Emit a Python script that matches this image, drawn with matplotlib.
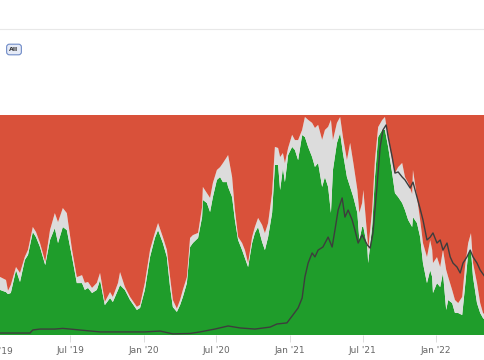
import matplotlib
matplotlib.use("Agg")
import matplotlib.pyplot as plt
import matplotlib.dates as mdates
import matplotlib.transforms as mtransforms
import pandas as pd
from matplotlib.lines import Line2D

# share of addresses: in the money / at the money (percent); out = rest
DATES = [
    "2019-01-07", "2019-01-22", "2019-01-27", "2019-02-03", "2019-02-16", "2019-02-26",
    "2019-03-10", "2019-03-18", "2019-03-30", "2019-04-07", "2019-04-17", "2019-04-30",
    "2019-05-12", "2019-05-24", "2019-06-01", "2019-06-13", "2019-06-23", "2019-07-06",
    "2019-07-18", "2019-07-31", "2019-08-07", "2019-08-15", "2019-08-25", "2019-09-06",
    "2019-09-14", "2019-09-26", "2019-10-09", "2019-10-16", "2019-10-29", "2019-11-03",
    "2019-11-15", "2019-11-28", "2019-12-15", "2019-12-23", "2020-01-04", "2020-01-17",
    "2020-01-29", "2020-02-06", "2020-02-18", "2020-02-28", "2020-03-07", "2020-03-14",
    "2020-03-24", "2020-04-01", "2020-04-08", "2020-04-18", "2020-04-26", "2020-05-03",
    "2020-05-16", "2020-05-26", "2020-05-28", "2020-06-07", "2020-06-15", "2020-06-22",
    "2020-07-02", "2020-07-10", "2020-07-17", "2020-07-27", "2020-07-30", "2020-08-09",
    "2020-08-16", "2020-08-24", "2020-09-03", "2020-09-10", "2020-09-18", "2020-09-28",
    "2020-10-05", "2020-10-13", "2020-10-23", "2020-10-30", "2020-11-07", "2020-11-17",
    "2020-11-24", "2020-12-02", "2020-12-07", "2020-12-14", "2020-12-19", "2020-12-27",
    "2021-01-06", "2021-01-13", "2021-01-21", "2021-01-31", "2021-02-07", "2021-02-15",
    "2021-02-25", "2021-03-04", "2021-03-12", "2021-03-22", "2021-03-29", "2021-04-06",
    "2021-04-13", "2021-04-18", "2021-04-28", "2021-05-06", "2021-05-13", "2021-05-23",
    "2021-05-31", "2021-06-08", "2021-06-18", "2021-06-23", "2021-06-30", "2021-07-03",
    "2021-07-13", "2021-07-15", "2021-07-25", "2021-08-01", "2021-08-09", "2021-08-19",
    "2021-08-26", "2021-09-03", "2021-09-13", "2021-09-20", "2021-09-28", "2021-10-08",
    "2021-10-15", "2021-10-23", "2021-11-02", "2021-11-04", "2021-11-14", "2021-11-22",
    "2021-11-29", "2021-12-09", "2021-12-17", "2021-12-22", "2021-12-24", "2022-01-03",
    "2022-01-11", "2022-01-18", "2022-01-26", "2022-01-31", "2022-02-10", "2022-02-17",
    "2022-02-25", "2022-03-07", "2022-03-14", "2022-03-22", "2022-03-29", "2022-04-03",
    "2022-04-13", "2022-04-21", "2022-04-28", "2022-05-03",
]
IN_MONEY = [
    20.5, 19.5, 18.6, 19.1, 29.5, 24.1, 34.1, 36.4, 46.8, 44.5, 40.0, 31.8,
    43.2, 48.6, 41.8, 49.1, 47.7, 35.5, 23.6, 23.6, 20.5, 21.4, 19.1, 20.5,
    25.0, 13.6, 16.8, 15.0, 20.5, 22.7, 20.5, 15.9, 11.4, 12.3, 20.5, 35.5,
    44.1, 47.7, 41.8, 35.5, 21.8, 12.7, 10.5, 13.6, 17.3, 23.6, 40.0, 41.8,
    44.1, 53.6, 61.4, 60.0, 55.9, 62.7, 70.5, 71.8, 69.5, 69.5, 67.3, 62.7,
    52.3, 43.2, 38.6, 35.0, 30.9, 41.8, 46.4, 49.1, 42.3, 38.6, 44.5, 55.5,
    77.3, 77.3, 65.9, 75.9, 69.5, 81.8, 85.5, 84.1, 79.5, 90.9, 90.0, 85.5,
    80.9, 76.4, 78.2, 67.3, 71.8, 67.3, 55.5, 75.0, 87.3, 91.8, 82.7, 71.8,
    67.3, 62.7, 55.5, 43.2, 49.1, 49.1, 40.0, 32.7, 49.1, 71.8, 90.0, 93.2,
    93.2, 85.5, 73.6, 64.5, 62.7, 60.0, 56.8, 52.3, 49.1, 53.6, 50.9, 44.5,
    32.7, 23.6, 29.5, 26.4, 19.1, 23.6, 21.8, 28.2, 11.4, 15.9, 14.5, 10.0,
    10.0, 9.1, 21.8, 37.3, 38.6, 26.4, 14.5, 10.0, 7.7, 6.8,
]
AT_MONEY = [
    5.9, 5.5, 1.5, 3.6, 1.4, 4.1, 1.4, 2.3, 2.3, 2.3, 1.8, 1.4,
    4.5, 6.8, 9.5, 8.6, 7.7, 3.2, 2.7, 3.6, 3.2, 2.7, 2.3, 3.2,
    3.2, 1.5, 2.7, 2.3, 3.2, 5.9, 1.4, 1.4, 1.4, 1.4, 3.2, 3.2,
    2.3, 3.2, 2.7, 3.2, 4.5, 3.2, 1.5, 2.3, 3.2, 2.7, 4.1, 3.6,
    2.3, 4.5, 5.9, 4.5, 6.4, 6.4, 4.5, 4.5, 8.6, 11.4, 14.5, 9.1,
    4.5, 1.4, 3.2, 3.6, 1.8, 2.7, 2.7, 4.1, 7.7, 7.7, 6.4, 9.1,
    8.2, 7.7, 15.0, 6.8, 8.6, 3.2, 5.5, 4.5, 9.1, 2.3, 9.1, 12.3,
    15.5, 17.7, 17.3, 21.4, 21.4, 27.3, 42.3, 13.6, 9.1, 7.3, 7.3, 7.7,
    20.0, 15.5, 10.5, 12.3, 10.9, 16.8, 4.5, 5.9, 7.7, 7.7, 4.5, 4.5,
    5.9, 4.5, 5.9, 9.1, 13.6, 18.2, 15.0, 16.8, 15.0, 21.4, 11.8, 7.7,
    9.1, 11.8, 13.6, 12.3, 13.6, 11.8, 9.1, 10.5, 18.2, 10.5, 5.9, 5.9,
    4.5, 8.2, 9.1, 4.5, 7.7, 6.4, 9.1, 4.5, 2.3, 2.3,
]

# price, as percent of the chart's price range
PRICE_DATES = [
    "2019-01-07", "2019-03-23", "2019-03-30", "2019-04-17", "2019-05-24", "2019-06-13",
    "2019-07-01", "2019-09-14", "2020-01-04", "2020-02-11", "2020-03-14", "2020-04-26",
    "2020-05-21", "2020-06-27", "2020-07-30", "2020-08-29", "2020-10-05", "2020-11-12",
    "2020-11-29", "2020-12-24", "2021-01-08", "2021-01-21", "2021-01-31", "2021-02-07",
    "2021-02-15", "2021-02-25", "2021-03-04", "2021-03-12", "2021-03-24", "2021-04-06",
    "2021-04-16", "2021-04-23", "2021-05-01", "2021-05-11", "2021-05-18", "2021-05-26",
    "2021-06-05", "2021-06-12", "2021-06-20", "2021-06-30", "2021-07-13", "2021-07-20",
    "2021-07-27", "2021-08-06", "2021-08-14", "2021-08-21", "2021-08-29", "2021-09-03",
    "2021-09-13", "2021-09-20", "2021-09-28", "2021-10-08", "2021-10-15", "2021-10-28",
    "2021-11-04", "2021-11-14", "2021-11-22", "2021-11-29", "2021-12-09", "2021-12-17",
    "2021-12-24", "2022-01-03", "2022-01-11", "2022-01-18", "2022-01-28", "2022-02-05",
    "2022-02-12", "2022-02-22", "2022-03-02", "2022-03-09", "2022-03-19", "2022-03-27",
    "2022-04-03", "2022-04-13", "2022-04-21", "2022-05-03",
]
PRICE = [
    0.9, 0.9, 2.3, 2.7, 2.7, 3.0, 2.7, 1.4, 1.4, 1.8, 0.5, 0.7,
    1.4, 2.7, 4.1, 3.2, 2.7, 3.6, 5.0, 5.5, 9.1, 12.3, 16.8, 26.4,
    32.7, 37.3, 35.5, 38.6, 40.0, 44.5, 40.0, 47.7, 56.8, 62.3, 53.6, 56.8,
    52.3, 47.7, 41.8, 45.5, 40.9, 39.5, 46.4, 67.3, 85.5, 93.2, 95.5, 90.0,
    80.9, 73.6, 74.1, 71.8, 70.5, 66.8, 69.5, 62.7, 57.3, 52.3, 43.2, 44.5,
    46.4, 41.8, 43.2, 38.6, 41.8, 35.5, 32.7, 30.9, 28.2, 32.7, 35.5, 38.6,
    35.5, 32.7, 29.5, 26.4,
]

C_IN = "#1f9d2b"
C_AT = "#dcdcdc"
C_OUT = "#d9513a"
C_PRICE = "#3d3d3d"
C_TICK = "#666666"

dates = pd.to_datetime(DATES)
out_money = [100 - a - b for a, b in zip(IN_MONEY, AT_MONEY)]

fig = plt.figure(figsize=(4.85, 3.6), dpi=100, facecolor="white")
ax = fig.add_axes([0, 25 / 360, 1, 220 / 360])
ax.stackplot(dates, IN_MONEY, AT_MONEY, out_money,
             colors=[C_IN, C_AT, C_OUT], linewidth=0)
ax.set_ylim(0, 100)
ax.set_xlim(pd.Timestamp("2019-01-07"), pd.Timestamp("2022-05-03"))
ax.set_yticks([])
for s in ax.spines.values():
    s.set_visible(False)
ax.xaxis.set_major_locator(mdates.MonthLocator(bymonth=[1, 7]))
ax.xaxis.set_major_formatter(mdates.DateFormatter("%b '%y"))
ax.tick_params(axis="x", length=5, width=0.6, color="#d8d8d8",
               labelsize=6.5, labelcolor=C_TICK, pad=3)

# the Jan '19 label sits just past the left edge, partly cut off
first = pd.Timestamp("2019-01-01")
trans = mtransforms.blended_transform_factory(ax.transData, ax.transAxes)
ax.text(first, 0, first.strftime("%b '%y"), transform=trans, fontsize=6.5,
        color=C_TICK, ha="center", va="top", clip_on=False,
        transform_rotates_text=False).set_y(-8 / 220 - 3.5 / 220)

ax2 = ax.twinx()
ax2.plot(pd.to_datetime(PRICE_DATES), PRICE, color=C_PRICE, linewidth=1.0)
ax2.set_ylim(0, 100)
ax2.set_yticks([])
for s in ax2.spines.values():
    s.set_visible(False)

# header separator and range button
fig.add_artist(Line2D([0, 1], [1 - 29 / 360] * 2, color="#e8e8e8", linewidth=0.8))
fig.text(14 / 485, 1 - 49.5 / 360, "All", fontsize=4.5, fontweight="bold",
         color="#333333", ha="center", va="center",
         bbox=dict(boxstyle="round,pad=0.45", fc="#e6ebf7", ec="#6f8bc7",
                   linewidth=0.8))

fig.savefig("out.png", dpi=100, facecolor="white")
